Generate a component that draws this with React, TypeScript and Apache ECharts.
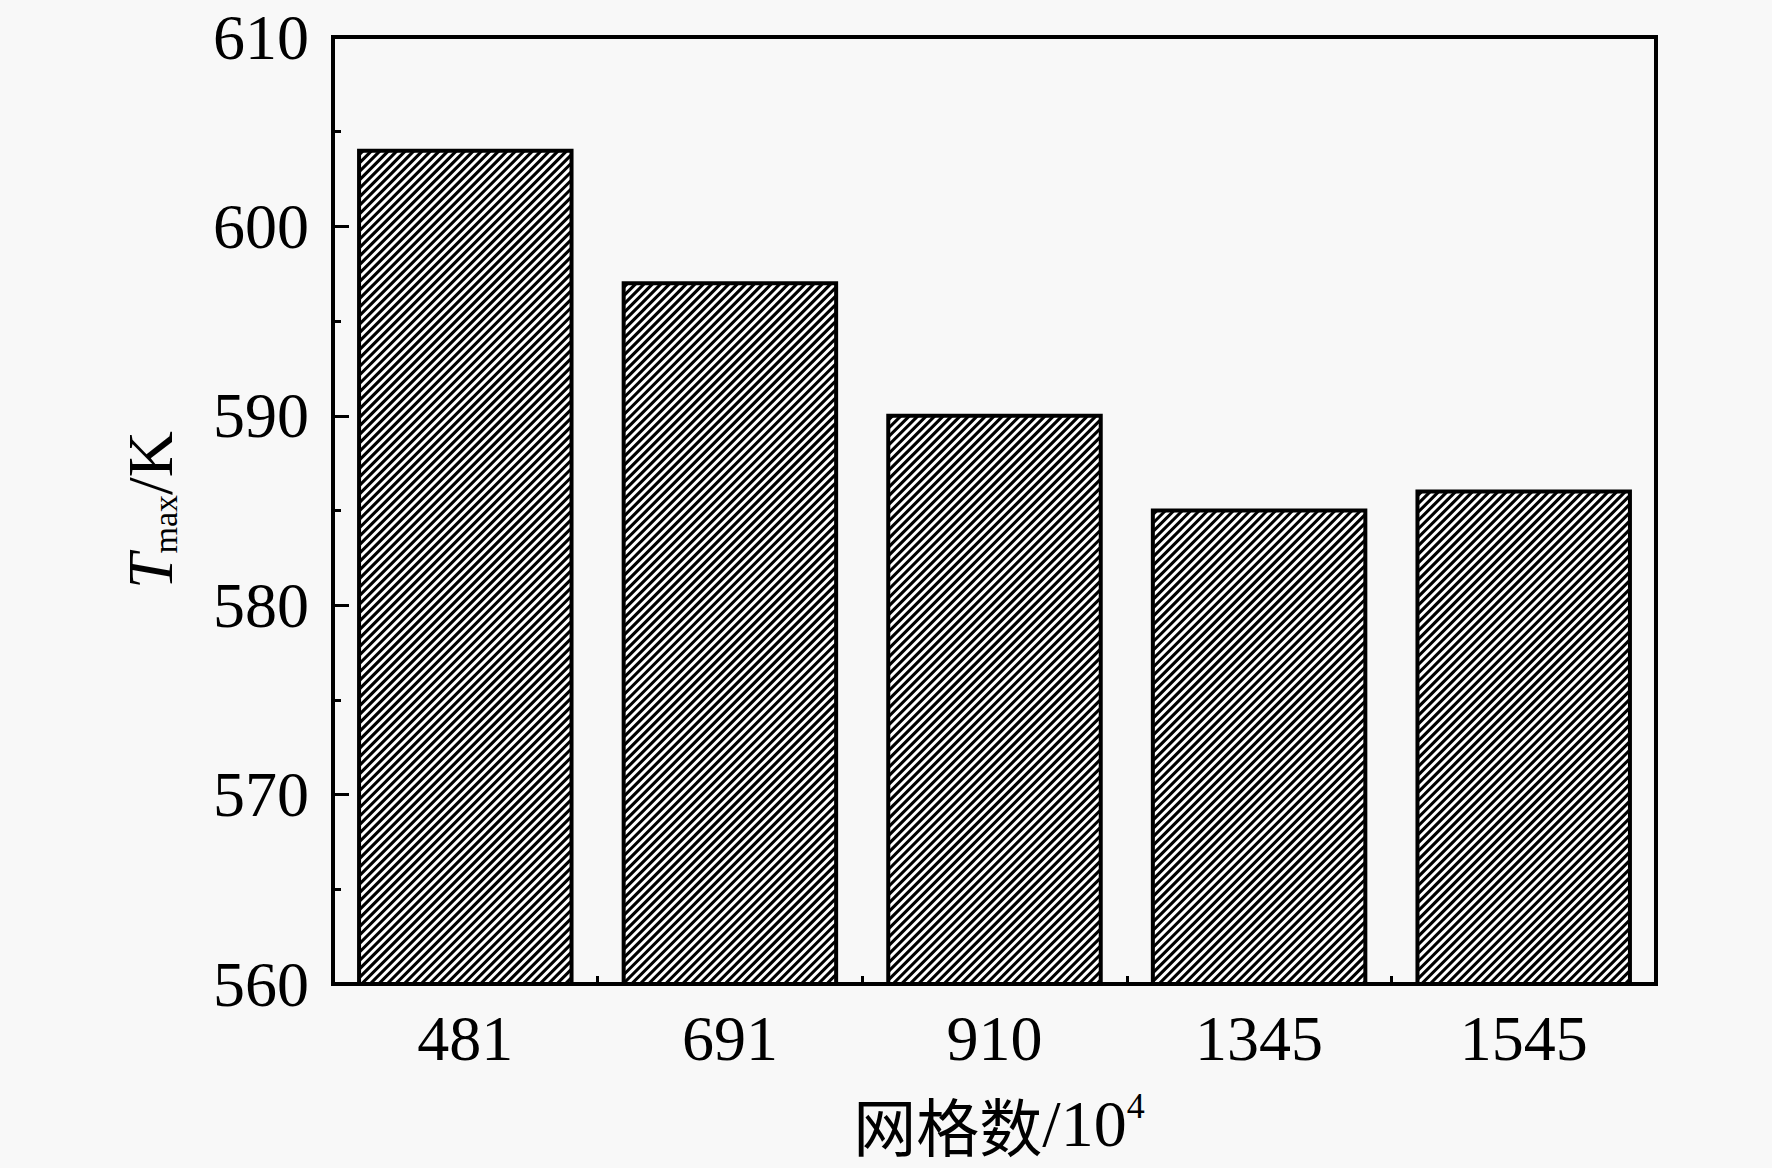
import React, { useEffect, useRef } from 'react';
import * as echarts from 'echarts';

const categories = ['481', '691', '910', '1345', '1545'];
const tmaxValues = [604, 597, 590, 585, 586];
const yMin = 560;
const yMax = 610;
const yInterval = 10;

const SERIF = '"Liberation Serif", "Times New Roman", serif';
const CJK = '"Noto Sans CJK SC", sans-serif';

const BAR_RATIO = 0.803;
const HATCH_PERIOD = 6 * Math.SQRT2; // horizontal spacing of the "/" hatch lines
const HATCH_WIDTH = 3.1;

function renderHatchedBar(params: any, api: any) {
  const idx = api.value(0);
  const val = api.value(1);
  const top = api.coord([idx, val]);
  const base = api.coord([idx, yMin]);
  const bandW = api.size([1, 0])[0];
  const w = bandW * BAR_RATIO;
  const left = top[0] - w / 2;
  const right = left + w;
  const y0 = top[1];
  const y1 = base[1];
  const children: any[] = [
    { type: 'rect', shape: { x: left, y: y0, width: w, height: y1 - y0 }, style: { fill: '#ffffff', stroke: null } },
  ];
  const cStart = left + y0;
  const cEnd = right + y1;
  for (let c = cStart + HATCH_PERIOD / 2; c < cEnd; c += HATCH_PERIOD) {
    const xa = Math.max(left, c - y1);
    const xb = Math.min(right, c - y0);
    if (xb <= xa) continue;
    children.push({
      type: 'line',
      shape: { x1: xa, y1: c - xa, x2: xb, y2: c - xb },
      style: { stroke: '#000', lineWidth: HATCH_WIDTH, lineCap: 'butt' },
    });
  }
  children.push({
    type: 'rect',
    shape: { x: left, y: y0, width: w, height: y1 - y0 },
    style: { fill: 'none', stroke: '#000', lineWidth: 4 },
  });
  return { type: 'group', children };
}

export default function App() {
  const ref = useRef<HTMLDivElement>(null);
  useEffect(() => {
    document.body.style.margin = '0';
    const chart = echarts.init(ref.current as HTMLDivElement, null, { renderer: 'svg' });
    chart.setOption({
      animation: false,
      backgroundColor: '#f8f8f8',
      grid: {
        left: 333,
        right: 116,
        top: 37,
        bottom: 184,
        show: true,
        borderColor: '#000',
        borderWidth: 4,
        backgroundColor: 'transparent',
      },
      xAxis: [
        {
          type: 'category',
          data: categories,
          axisLine: { show: true, lineStyle: { color: '#000', width: 4 } },
          axisTick: { show: true, inside: true, length: 8, alignWithLabel: false, lineStyle: { color: '#000', width: 3 } },
          axisLabel: { color: '#000', fontFamily: SERIF, fontSize: 64, margin: 22 },
          splitLine: { show: false },
          z: 5,
        },
        {
          type: 'category',
          data: categories,
          position: 'bottom',
          axisLine: { show: false },
          axisTick: { show: true, inside: true, length: 8, alignWithLabel: true, lineStyle: { color: '#000', width: 3 } },
          axisLabel: { show: false },
          splitLine: { show: false },
        },
      ],
      yAxis: {
        type: 'value',
        min: yMin,
        max: yMax,
        interval: yInterval,
        axisLine: { show: true, lineStyle: { color: '#000', width: 4 } },
        axisTick: { show: true, inside: true, length: 16, lineStyle: { color: '#000', width: 3 } },
        minorTick: { show: true, splitNumber: 2, length: 8, lineStyle: { color: '#000', width: 3 } },
        axisLabel: { color: '#000', fontFamily: SERIF, fontSize: 64, margin: 24 },
        splitLine: { show: false },
        z: 5,
      },
      graphic: [
        {
          type: 'text',
          x: 150,
          y: 510,
          rotation: Math.PI / 2,
          style: {
            text: '{t|T}{s|max}{k|/K}',
            align: 'center',
            verticalAlign: 'middle',
            fill: '#000',
            rich: {
              t: { fontFamily: SERIF, fontSize: 64, fontStyle: 'italic', fill: '#000', lineHeight: 64, verticalAlign: 'middle' },
              s: { fontFamily: SERIF, fontSize: 34, fill: '#000', lineHeight: 64, verticalAlign: 'bottom' },
              k: { fontFamily: SERIF, fontSize: 64, fill: '#000', lineHeight: 64, verticalAlign: 'middle' },
            },
          },
        },
        {
          type: 'text',
          x: 999,
          y: 1123,
          style: {
            text: '{c|网格数}{e|/10}{p|4}',
            align: 'center',
            verticalAlign: 'middle',
            fill: '#000',
            rich: {
              c: { fontFamily: CJK, fontSize: 63, fill: '#000', lineHeight: 70, verticalAlign: 'middle' },
              e: { fontFamily: SERIF, fontSize: 66, fill: '#000', lineHeight: 70, verticalAlign: 'middle' },
              p: { fontFamily: SERIF, fontSize: 36, fill: '#000', lineHeight: 70, verticalAlign: 'top' },
            },
          },
        },
      ],
      series: [
        {
          type: 'custom',
          xAxisIndex: 0,
          yAxisIndex: 0,
          renderItem: renderHatchedBar,
          encode: { x: 0, y: 1 },
          data: tmaxValues.map((v, i) => [i, v]),
          clip: true,
        },
      ],
    });
    return () => chart.dispose();
  }, []);
  return <div ref={ref} style={{ width: 1772, height: 1168 }} />;
}
